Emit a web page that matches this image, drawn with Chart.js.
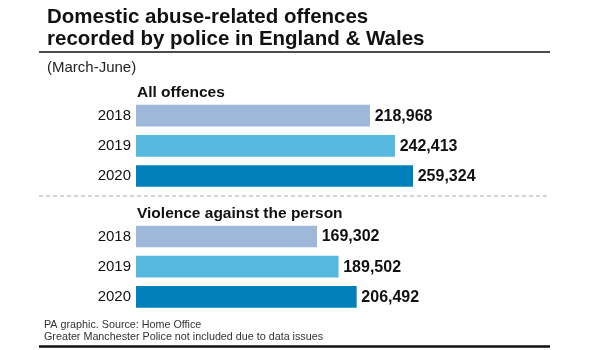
<!DOCTYPE html>
<html>
<head>
<meta charset="utf-8">
<script src="https://cdn.jsdelivr.net/npm/chart.js@4"></script>
<style>
  html, body { margin: 0; padding: 0; background: #fff; }
  canvas { display: block; }
</style>
</head>
<body>
<canvas id="c" width="600" height="350"></canvas>
<script>
// ---- data ----
const titleLines = ['Domestic abuse-related offences', 'recorded by police in England & Wales'];
const subtitle = '(March-June)';
const groups = ['All offences', 'Violence against the person'];
const years = ['2018', '2019', '2020'];
const allOffences = [218968, 242413, 259324];
const violenceAgainstPerson = [169302, 189502, 206492];
const yearColors = ['#9DB8D9', '#56B7DF', '#0080BB'];
const footerLines = ['PA graphic. Source: Home Office', 'Greater Manchester Police not included due to data issues'];

// build library table (a blank category separates the two groups)
const labels = [...years, '', ...years];
const values = [...allOffences, null, ...violenceAgainstPerson];
const colors = [...yearColors, 'rgba(0,0,0,0)', ...yearColors];
const groupStart = [0, years.length + 1];

const FONT = '"Liberation Sans", Arial, Helvetica, sans-serif';
const fmt = v => v.toLocaleString('en-GB');

const decor = {
  id: 'decor',
  afterDraw(chart) {
    const ctx = chart.ctx;
    const ys = chart.scales.y;
    const meta = chart.getDatasetMeta(0);
    const L = 39, R = 550;
    ctx.save();
    // title
    ctx.fillStyle = '#111';
    ctx.textAlign = 'left';
    ctx.textBaseline = 'alphabetic';
    ctx.font = 'bold 20.5px ' + FONT;
    ctx.fillText(titleLines[0], 47, 22.5);
    ctx.fillText(titleLines[1], 47, 44.5);
    // top rule
    ctx.strokeStyle = '#111';
    ctx.lineWidth = 1.5;
    ctx.beginPath(); ctx.moveTo(L, 52); ctx.lineTo(R, 52); ctx.stroke();
    // subtitle
    ctx.fillStyle = '#222';
    ctx.font = '15px ' + FONT;
    ctx.textBaseline = 'middle';
    ctx.fillText(subtitle, 47, 68);
    // group headers
    ctx.fillStyle = '#111';
    ctx.font = 'bold 15.5px ' + FONT;
    groups.forEach((g, i) => {
      const y = ys.getPixelForValue(groupStart[i]) - 23;
      ctx.fillText(g, chart.chartArea.left + 1, y);
    });
    // dashed separator
    const sepY = ys.getPixelForValue(years.length - 1) + 20;
    ctx.strokeStyle = '#aaa';
    ctx.lineWidth = 1;
    ctx.setLineDash([4, 3]);
    ctx.beginPath(); ctx.moveTo(L, sepY); ctx.lineTo(R, sepY); ctx.stroke();
    ctx.setLineDash([]);
    // value labels
    ctx.font = 'bold 16px ' + FONT;
    ctx.fillStyle = '#111';
    meta.data.forEach((bar, i) => {
      const v = values[i];
      if (v == null) return;
      ctx.fillText(fmt(v), bar.x + 5, bar.y + 0.5);
    });
    // footer
    ctx.fillStyle = '#333';
    ctx.font = '10.75px ' + FONT;
    ctx.fillText(footerLines[0], 44, 325);
    ctx.fillText(footerLines[1], 44, 337.5);
    // bottom rule
    ctx.strokeStyle = '#111';
    ctx.lineWidth = 2.5;
    ctx.beginPath(); ctx.moveTo(L, 346.5); ctx.lineTo(R, 346.5); ctx.stroke();
    ctx.restore();
  }
};

new Chart(document.getElementById('c'), {
  type: 'bar',
  data: {
    labels: labels,
    datasets: [{
      data: values,
      backgroundColor: colors,
      borderWidth: 0,
      barThickness: 21
    }]
  },
  options: {
    indexAxis: 'y',
    responsive: false,
    animation: false,
    events: [],
    layout: { padding: { left: 0, right: 50, top: 100.5, bottom: 38 } },
    plugins: { legend: { display: false }, tooltip: { enabled: false }, title: { display: false } },
    scales: {
      x: { display: false, min: 0, max: 388000 },
      y: {
        afterFit: s => { s.width = 136; },
        grid: { display: false, drawTicks: false },
        border: { display: false },
        ticks: { padding: 5, color: '#111', font: { family: FONT, size: 15 } }
      }
    }
  },
  plugins: [decor]
});
</script>
</body>
</html>
